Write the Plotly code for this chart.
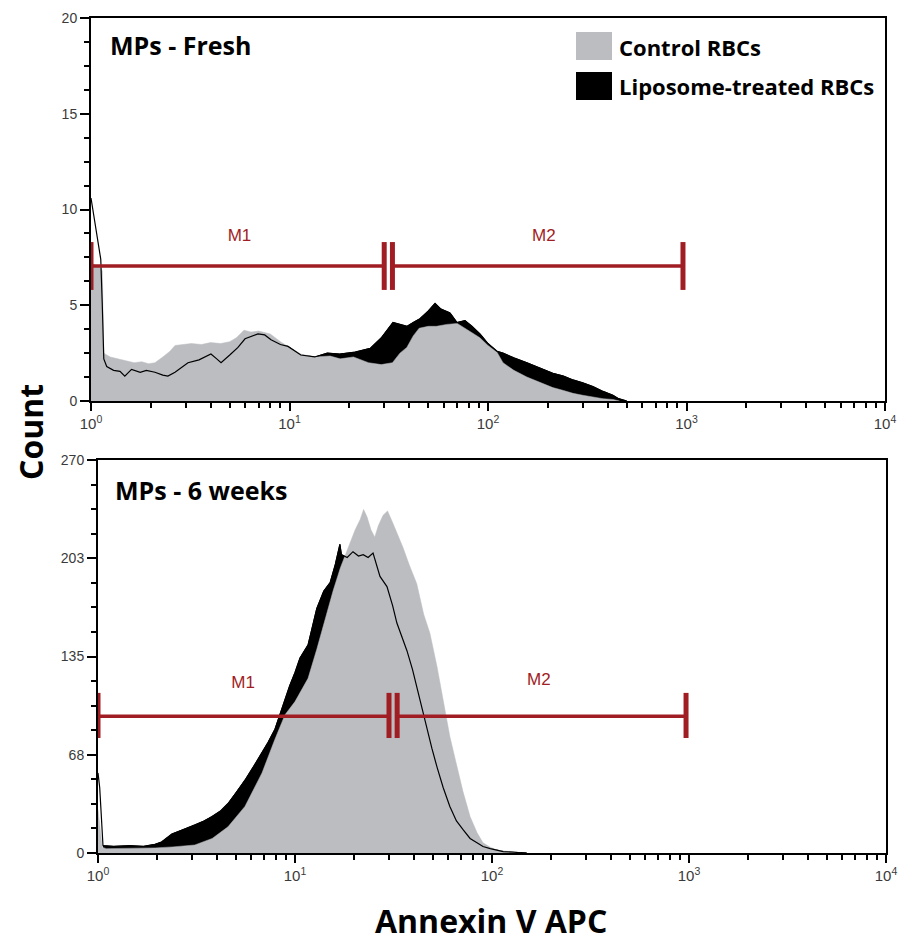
import plotly.graph_objects as go

# ---------------- data ----------------
# Top panel: MPs - Fresh
fresh_ctrl_x = [1.0, 1.1, 1.14, 1.16, 1.25, 1.35, 1.5, 1.65, 1.8, 1.95, 2.1, 2.3, 2.5, 2.65, 2.9,
                3.2, 3.6, 4.0, 4.5, 5.0, 5.4, 5.9, 6.4, 7.0, 8.0, 9.0, 10.0, 11.4, 13.4, 16, 18,
                21, 25, 29, 33, 36, 39, 42, 45, 50, 55, 62, 70, 77, 85, 91, 100, 111, 119, 135,
                157, 185, 212, 240, 268, 300, 338, 380, 426, 460]
fresh_ctrl_y = [7.2, 7.0, 6.8, 2.5, 2.3, 2.2, 2.1, 2.0, 2.05, 1.95, 2.0, 2.3, 2.6, 2.9, 2.95,
                3.0, 2.95, 3.05, 3.0, 3.1, 3.3, 3.7, 3.6, 3.65, 3.5, 3.1, 2.8, 2.45, 2.3, 2.35, 2.2,
                2.3, 2.0, 1.9, 2.0, 2.5, 2.8, 3.4, 3.8, 3.9, 3.9, 4.0, 4.05, 3.8, 3.5, 3.3, 2.9, 2.55, 2.0, 1.6,
                1.25, 0.95, 0.7, 0.55, 0.4, 0.3, 0.2, 0.12, 0.08, 0.0]

fresh_lipo_x = [1.0, 1.02, 1.05, 1.08, 1.12, 1.14, 1.16, 1.2, 1.3, 1.4, 1.48, 1.6, 1.77, 1.9, 2.1,
                2.3, 2.44, 2.65, 2.85, 3.08, 3.5, 4.02, 4.3, 4.52, 5.0, 5.5, 5.97, 6.5, 6.94, 7.5,
                8.07, 9.0, 9.83, 11.4, 13.4, 15.5, 17.9, 21.4, 25.5, 29, 33.2, 36, 39.1, 42, 45.4,
                50, 54.1, 58, 64.4, 69.8, 76.6, 83, 91.2, 100, 111, 119, 135, 157, 185, 212, 240,
                268, 300, 338, 380, 426, 455, 480, 500]
fresh_lipo_y = [10.6, 10.0, 9.2, 8.4, 7.4, 5.0, 2.2, 1.8, 1.6, 1.55, 1.3, 1.65, 1.5, 1.6, 1.5,
                1.35, 1.3, 1.5, 1.75, 2.0, 2.15, 2.45, 2.2, 2.0, 2.4, 2.8, 3.25, 3.4, 3.5, 3.45,
                3.2, 2.95, 2.85, 2.4, 2.3, 2.5, 2.45, 2.55, 2.75, 3.3, 4.1, 4.0, 3.9, 4.1, 4.3,
                4.7, 5.1, 4.8, 4.6, 4.1, 4.2, 3.9, 3.5, 3.0, 2.6, 2.5, 2.25, 2.0, 1.7, 1.45, 1.3,
                1.1, 0.95, 0.75, 0.5, 0.3, 0.12, 0.03, 0.0]

# Bottom panel: MPs - 6 weeks
weeks_ctrl_x = [1.0, 1.03, 1.05, 1.1, 1.3, 1.6, 1.95, 2.4, 3.1, 3.8, 4.57, 5.57, 6.8, 7.9, 8.9,
                10.0, 11.65, 12.9, 14.7, 15.6, 17, 19.0, 20.2, 21.4, 22.3, 23.2, 24.3, 25.4, 26.5,
                28.0, 29.5, 31.3, 33, 35.3, 38, 41.5, 45, 48.4, 52.6, 56.4, 61.1, 66.5, 71.3, 77.4,
                83.9, 90, 98, 106, 120, 140]
weeks_ctrl_y = [30, 14, 4, 3, 3, 3.2, 3.5, 4.2, 5.5, 10, 18, 32, 55, 78, 95,
                104, 120, 140, 168, 180, 196, 213, 222, 229, 236, 231, 222, 217, 225,
                232, 235, 227, 220, 210, 198, 185, 164, 151, 128, 105, 80, 59, 42, 25,
                14, 7, 4, 2, 1, 0]

weeks_lipo_x = [1.0, 1.02, 1.035, 1.045, 1.06, 1.2, 1.45, 1.7, 1.95, 2.1, 2.37, 2.7, 3.1, 3.45,
                3.79, 4.2, 4.57, 5.0, 5.57, 6.2, 6.8, 7.3, 7.91, 8.4, 8.89, 9.4, 10.0, 10.6, 11.65,
                12.9, 14.0, 15.1, 16.0, 16.9, 17.2, 18.4, 19.7, 21.0, 22.2, 23.5, 24.9, 26.0, 27.0,
                29.3, 31.3, 32.9, 35.3, 37.0, 39.5, 41.5, 44, 46.7, 49.5, 52.6, 56.5, 61.1, 66,
                71.3, 77.4, 83.9, 90, 98, 106, 114, 130, 150]
weeks_lipo_y = [55, 45, 30, 15, 5, 4.5, 5, 4.5, 6, 7.5, 13, 16, 19, 22,
                25, 29, 34, 41, 50, 60, 69, 76, 85, 96, 105, 115, 124, 134, 143,
                168, 180, 186, 198, 212, 205, 203, 207, 204, 205, 203, 206, 198, 190,
                183, 170, 158, 146, 139, 126, 114, 100, 87, 72, 59, 45, 32, 22,
                16, 10, 7, 4.5, 3, 2, 1, 0.5, 0]

# index where the filled part of the liposome trace starts (after the thin spike at 10^0)
fresh_lipo_fill_start = 6
weeks_lipo_fill_start = 4

# Marker gates (start, end) and levels
fresh_gates = [(1.0, 30.0), (33.0, 960.0)]
fresh_gate_level = 7.05
fresh_cap = (5.8, 8.3)
weeks_gates = [(1.0, 30.0), (33.0, 966.0)]
weeks_gate_level = 94
weeks_cap = (79, 110)
gate_names = ["M1", "M2"]
fresh_label_pos = [(5.6, 8.6), (191, 8.6)]
weeks_label_pos = [(5.45, 116), (173, 118)]

x_tickvals = [1, 10, 100, 1000, 10000]
x_ticktext = ["10<sup>0</sup>", "10<sup>1</sup>", "10<sup>2</sup>", "10<sup>3</sup>", "10<sup>4</sup>"]
x_minor = [m * d for d in [1, 10, 100, 1000] for m in range(2, 10)]
fresh_yticks = [0, 5, 10, 15, 20]
fresh_yticktext = ["0", "5", "10", "15", "20"]
weeks_yticks = [0, 67.5, 135, 202.5, 270]
weeks_yticktext = ["0", "68", "135", "203", "270"]

legend_labels = ["Control RBCs", "Liposome-treated RBCs"]
panel_titles = ["MPs - Fresh", "MPs - 6 weeks"]

GREY = "#bbbdc0"
RED = "#a11d24"

fig = go.Figure()


def add_panel(cx, cy, lx, ly, start, xa, ya):
    fig.add_trace(go.Scatter(x=lx[start:], y=ly[start:], mode="lines", fill="tozeroy",
                             fillcolor="black", line=dict(color="black", width=1),
                             xaxis=xa, yaxis=ya, showlegend=False, hoverinfo="skip"))
    fig.add_trace(go.Scatter(x=cx, y=cy, mode="lines", fill="tozeroy", fillcolor=GREY,
                             line=dict(color=GREY, width=0.5), xaxis=xa, yaxis=ya,
                             showlegend=False, hoverinfo="skip"))
    fig.add_trace(go.Scatter(x=lx, y=ly, mode="lines",
                             line=dict(color="black", width=1.2), xaxis=xa, yaxis=ya,
                             showlegend=False, hoverinfo="skip"))


def add_gates(gates, level, cap, labels_pos, xa, ya):
    for (g0, g1), name, (tx, ty) in zip(gates, gate_names, labels_pos):
        fig.add_trace(go.Scatter(x=[g0, g1], y=[level, level], mode="lines",
                                 line=dict(color=RED, width=3.5), xaxis=xa, yaxis=ya,
                                 showlegend=False, hoverinfo="skip"))
        for gx in (g0, g1):
            fig.add_trace(go.Scatter(x=[gx, gx], y=[cap[0], cap[1]], mode="lines",
                                     line=dict(color=RED, width=5), xaxis=xa, yaxis=ya,
                                     showlegend=False, hoverinfo="skip"))
        fig.add_trace(go.Scatter(x=[tx], y=[ty], mode="text", text=[name],
                                 textfont=dict(family="Liberation Sans", size=17, color=RED),
                                 xaxis=xa, yaxis=ya, showlegend=False, hoverinfo="skip"))


add_panel(fresh_ctrl_x, fresh_ctrl_y, fresh_lipo_x, fresh_lipo_y, fresh_lipo_fill_start, "x", "y")
add_gates(fresh_gates, fresh_gate_level, fresh_cap, fresh_label_pos, "x", "y")
add_panel(weeks_ctrl_x, weeks_ctrl_y, weeks_lipo_x, weeks_lipo_y, weeks_lipo_fill_start, "x2", "y2")
add_gates(weeks_gates, weeks_gate_level, weeks_cap, weeks_label_pos, "x2", "y2")

W, H = 900, 943


def px(x):
    return x / W


def py(y):
    return 1 - y / H


ytickfont = dict(family="Liberation Sans", size=14, color="#3a3a3a")
xtickfont = dict(family="Liberation Sans", size=15, color="#3a3a3a")


def xaxis_def(domain, anchor):
    return dict(type="log", range=[0, 4], domain=domain, anchor=anchor, automargin=False,
                tickvals=x_tickvals, ticktext=x_ticktext, ticks="outside", ticklen=8,
                tickwidth=1.5, tickcolor="black", showline=True, linecolor="black",
                linewidth=2, mirror=True, showgrid=False, zeroline=False, tickfont=xtickfont,
                ticklabeloverflow="allow",
                minor=dict(tickvals=x_minor, ticks="outside", ticklen=5, tickwidth=1.5,
                           tickcolor="black", showgrid=False))


def yaxis_def(domain, anchor, rng, tv, tt, minor_dtick):
    return dict(range=rng, domain=domain, anchor=anchor, tickvals=tv, ticktext=tt,
                automargin=False,
                ticks="outside", ticklen=9, tickwidth=1.5, tickcolor="black",
                showline=True, linecolor="black", linewidth=2, mirror=True,
                showgrid=False, zeroline=False, tickfont=ytickfont,
                minor=dict(dtick=minor_dtick, tick0=0, ticks="outside", ticklen=5,
                           tickwidth=1.5, tickcolor="black", showgrid=False))


fig.update_layout(
    width=W, height=H, margin=dict(l=0, r=0, t=0, b=0, autoexpand=False),
    paper_bgcolor="white", plot_bgcolor="white",
    xaxis=xaxis_def([px(91), px(885)], "y"),
    yaxis=yaxis_def([py(401), py(18)], "x", [0, 20], fresh_yticks, fresh_yticktext, 1.25),
    xaxis2=xaxis_def([px(98), px(886)], "y2"),
    yaxis2=yaxis_def([py(853), py(460)], "x2", [0, 270], weeks_yticks, weeks_yticktext, 16.875),
)

title_font = dict(family="Open Sans", size=25, color="black", weight="bold")
legend_font = dict(family="Open Sans", size=22, color="black", weight="bold")
ann = [
    dict(text=panel_titles[0], x=px(108), y=py(45), font=title_font),
    dict(text=panel_titles[1], x=px(113), y=py(490), font=title_font),
    dict(text=legend_labels[0], x=px(617), y=py(47), font=legend_font),
    dict(text=legend_labels[1], x=px(617), y=py(86), font=legend_font),
]
for a in ann:
    fig.add_annotation(xref="paper", yref="paper", showarrow=False, xanchor="left",
                       yanchor="middle", **a)

axis_title_font = dict(family="Open Sans", size=32, color="black", weight="bold")
fig.add_annotation(xref="paper", yref="paper", showarrow=False, text="Count",
                   x=px(30), y=py(432), textangle=-90, xanchor="center", yanchor="middle",
                   font=axis_title_font)
fig.add_annotation(xref="paper", yref="paper", showarrow=False, text="Annexin V APC",
                   x=px(491), y=py(920), xanchor="center", yanchor="middle",
                   font=axis_title_font)

fig.add_shape(type="rect", xref="paper", yref="paper", x0=px(576), x1=px(612),
              y0=py(60), y1=py(32), fillcolor=GREY, line=dict(width=0))
fig.add_shape(type="rect", xref="paper", yref="paper", x0=px(576), x1=px(612),
              y0=py(100), y1=py(72), fillcolor="black", line=dict(width=0))

# remove the page's default body margin so the 900x943 figure fills the window exactly
fig.write_html("out.html",
               config={"displayModeBar": False},
               post_script="document.body.style.margin='0px';"
                           "document.body.style.overflow='hidden';")
